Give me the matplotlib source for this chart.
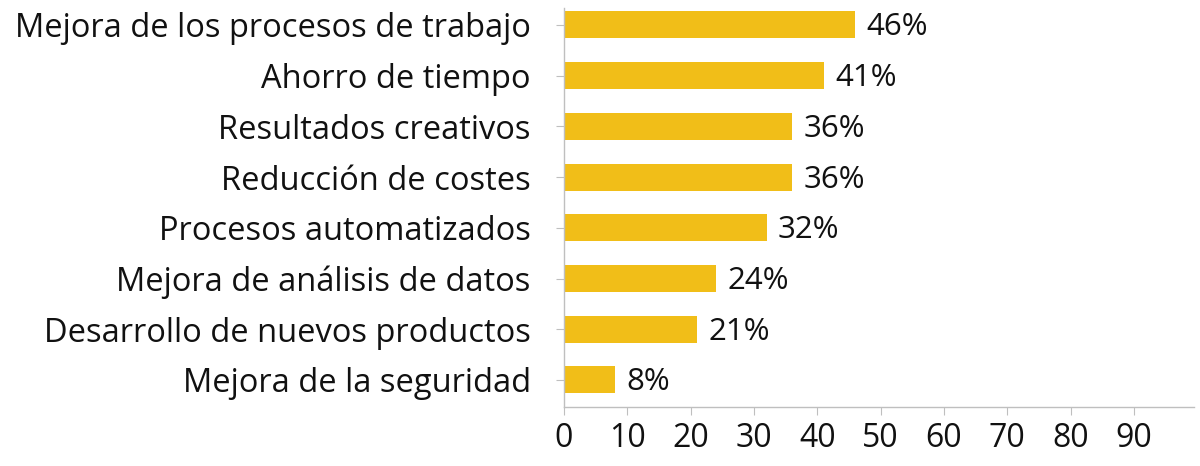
import matplotlib.pyplot as plt
import numpy as np

# data
categories = [
    "Mejora de los procesos de trabajo",
    "Ahorro de tiempo",
    "Resultados creativos",
    "Reducción de costes",
    "Procesos automatizados",
    "Mejora de análisis de datos",
    "Desarrollo de nuevos productos",
    "Mejora de la seguridad",
]
values = [46, 41, 36, 36, 32, 24, 21, 8]
x_ticks = [0, 10, 20, 30, 40, 50, 60, 70, 80, 90]

plt.rcParams['font.family'] = ['Open Sans', 'DejaVu Sans']

bar_color = '#F1BE18'
axis_color = '#BFBFBF'
text_color = '#111111'

fig = plt.figure(figsize=(12, 4.66), dpi=100)
ax = fig.add_axes([0.47, 0.127, 0.525, 0.856])

y = np.arange(len(categories))
ax.barh(y, values, height=0.53, color=bar_color, zorder=2)

# value labels
for yi, v in zip(y, values):
    ax.text(v + 1.8, yi + 0.05, f"{v}%", va='center', ha='left', fontsize=22.5, color=text_color)

ax.set_yticks(y)
ax.set_yticklabels(categories, fontsize=23.5, color=text_color)
ax.set_xticks(x_ticks)
ax.set_xticklabels([str(t) for t in x_ticks], fontsize=23, color=text_color)
ax.set_xlim(0, 99.5)
ax.set_ylim(len(categories) - 1 + 0.53, -0.335)

for side in ['top', 'right']:
    ax.spines[side].set_visible(False)
for side in ['left', 'bottom']:
    ax.spines[side].set_color(axis_color)
    ax.spines[side].set_linewidth(1)

ax.tick_params(axis='y', length=6, color=axis_color, pad=18)
ax.tick_params(axis='x', length=6, color=axis_color, pad=5)

fig.savefig('out.png', dpi=100)
